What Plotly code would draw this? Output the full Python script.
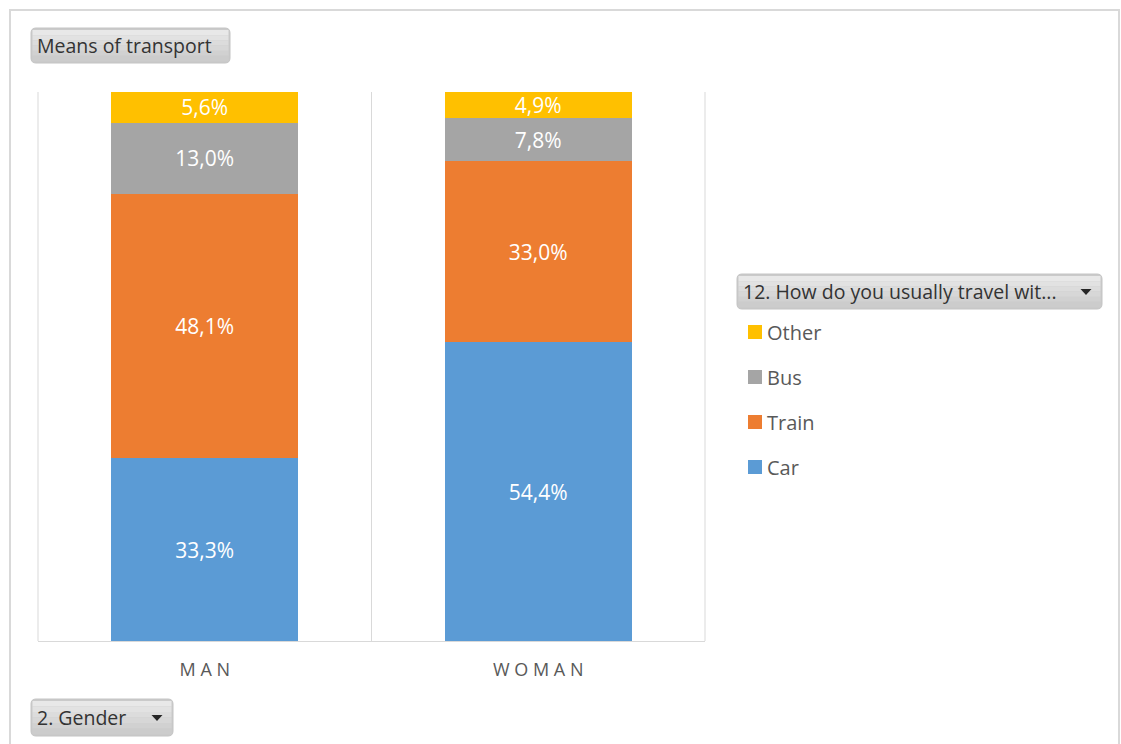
import plotly.graph_objects as go

# ---- data ----
genders = ["MAN", "WOMAN"]
gender_labels = ["M A N", "W O M A N"]
series_names = ["Car", "Train", "Bus", "Other"]
car = [33.3, 54.4]
train = [48.1, 33.0]
bus = [13.0, 7.8]
other = [5.6, 4.9]
colors = ["#5b9bd5", "#ed7d31", "#a5a5a5", "#ffc000"]

W_PX, H_PX = 1121, 744
L, R, T, B = 38, 705, 92, 641
FONT = "Open Sans"


def px(x):
    return (x - L) / (R - L)


def py(y):
    return (B - y) / (B - T)


fig = go.Figure()
for name, vals, col in zip(series_names, [car, train, bus, other], colors):
    fig.add_trace(go.Bar(
        x=genders, y=vals, name=name,
        marker=dict(color=col, line=dict(width=0)),
        text=[f"{v:.1f}%".replace(".", ",") for v in vals],
        textposition="inside", insidetextanchor="middle", constraintext="none",
        textfont=dict(color="white", size=21, family=FONT),
        hoverinfo="skip", showlegend=False,
    ))

shapes = []
annotations = []

# outer chart border
shapes.append(dict(type="rect", xref="paper", yref="paper",
                   x0=px(10), x1=px(1119), y0=py(746), y1=py(10),
                   line=dict(color="#d9d9d9", width=2), fillcolor="rgba(0,0,0,0)", layer="below"))
# plot-area side lines (category boundaries)
for xx in (0, 1):
    shapes.append(dict(type="line", xref="paper", yref="paper", x0=xx, x1=xx, y0=0, y1=1,
                       line=dict(color="#d9d9d9", width=1), layer="below"))


def button(x0, y0, x1, y1, label, arrow=False):
    r = 5
    X0, X1, Y0, Y1 = x0, x1, y0, y1
    path = (f"M {px(X0 + r)} {py(Y0)} L {px(X1 - r)} {py(Y0)} Q {px(X1)} {py(Y0)} {px(X1)} {py(Y0 + r)} "
            f"L {px(X1)} {py(Y1 - r)} Q {px(X1)} {py(Y1)} {px(X1 - r)} {py(Y1)} "
            f"L {px(X0 + r)} {py(Y1)} Q {px(X0)} {py(Y1)} {px(X0)} {py(Y1 - r)} "
            f"L {px(X0)} {py(Y0 + r)} Q {px(X0)} {py(Y0)} {px(X0 + r)} {py(Y0)} Z")
    shapes.append(dict(type="path", xref="paper", yref="paper", path=path,
                       fillcolor="#cacaca", line=dict(color="#c4c4c4", width=1)))
    # gradient bands (light top -> darker bottom)
    n = 6
    h = (Y1 - Y0 - 4) / n
    for i in range(n):
        g = int(0xe8 - i * (0xe8 - 0xcc) / (n - 1))
        shapes.append(dict(type="rect", xref="paper", yref="paper",
                           x0=px(X0 + 1.5), x1=px(X1 - 1.5),
                           y0=py(Y0 + 2 + (i + 1) * h), y1=py(Y0 + 2 + i * h),
                           fillcolor=f"rgb({g},{g},{g})", line=dict(width=0)))
    annotations.append(dict(xref="paper", yref="paper", x=px(X0 + 4), y=py((Y0 + Y1) / 2),
                            text=label, showarrow=False, xanchor="left", yanchor="middle",
                            font=dict(family=FONT, size=19.5, color="#333333")))
    if arrow:
        cx, cy = X1 - 16, (Y0 + Y1) / 2
        shapes.append(dict(type="path", xref="paper", yref="paper",
                           path=f"M {px(cx - 5.5)} {py(cy - 2.5)} L {px(cx + 5.5)} {py(cy - 2.5)} L {px(cx)} {py(cy + 3.5)} Z",
                           fillcolor="#262626", line=dict(width=0)))


button(31, 28, 230, 63, "Means of transport")
button(737, 274, 1102, 309, "12. How do you usually travel wit...", arrow=True)
button(31, 699, 173, 736, "2. Gender", arrow=True)

# legend (top to bottom: Other, Bus, Train, Car)
leg_y0, leg_dy = 332, 45
for i, (name, col) in enumerate(reversed(list(zip(series_names, colors)))):
    yc = leg_y0 + i * leg_dy
    shapes.append(dict(type="rect", xref="paper", yref="paper",
                       x0=px(748), x1=px(762), y0=py(yc + 7), y1=py(yc - 7),
                       fillcolor=col, line=dict(width=0)))
    annotations.append(dict(xref="paper", yref="paper", x=px(765), y=py(yc),
                            text=name, showarrow=False, xanchor="left", yanchor="middle",
                            font=dict(family=FONT, size=20, color="#595959")))

fig.update_layout(
    width=W_PX, height=H_PX,
    margin=dict(l=L, r=W_PX - R, t=T, b=H_PX - B),
    barmode="stack", bargap=0.44,
    plot_bgcolor="white", paper_bgcolor="white",
    font=dict(family=FONT, color="#595959"),
    showlegend=False,
    xaxis=dict(tickmode="array", tickvals=genders, ticktext=gender_labels,
               tickson="boundaries", showgrid=True, gridcolor="#d9d9d9", gridwidth=1,
               showline=True, linecolor="#d9d9d9", ticks="", ticklen=0,
               ticklabelstandoff=12,
               tickfont=dict(size=18, color="#595959", family=FONT),
               range=[-0.5, 1.5], fixedrange=True),
    yaxis=dict(range=[0, 100], visible=False, showgrid=False, zeroline=False, fixedrange=True),
    shapes=shapes, annotations=annotations,
)

fig.write_html("out.html", config={"displayModeBar": False},
               post_script="document.body.style.margin='0';")
